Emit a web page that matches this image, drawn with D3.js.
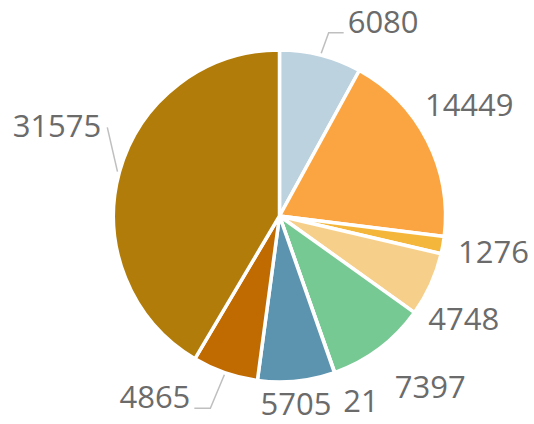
<!DOCTYPE html>
<html lang="en">
  <head>
    <meta charset="UTF-8" />
    <script src="https://d3js.org/d3.v7.min.js"></script>
    <title>Pie chart</title>
    <style>
      body { margin: 0; background: #fff; }
    </style>
  </head>
  <body>
    <div id="chart-container"></div>
    <script>
      // slice values, clockwise from 12 o'clock
      const values = [6080, 14449, 1276, 4748, 7397, 21, 5705, 4865, 31575];
      const colors = ["#bcd2df", "#fba542", "#f5b73b", "#f6d08b", "#77c994", "#8fb7a0", "#5c94b0", "#c06a02", "#b17c0a"];

      // hand-placed label positions (angle in degrees, distance from centre)
      const labelAngle = [28.1, 59.6, 99.5, 119.2, 138.6, 156.2, 175, 214.5, 292];
      const labelRadius = [220, 220, 217, 211, 228, 202, 189, 220, 240];
      // leader lines: slice index, horizontal elbow length
      const leaders = [
        { i: 0, elbow: 15 },
        { i: 7, elbow: 16 },
        { i: 8, elbow: 0 },
      ];

      const width = 534, height = 424;
      const cx = 279.5, cy = 216, r = 166;

      const svg = d3
        .select("#chart-container")
        .append("svg")
        .attr("width", width)
        .attr("height", height);

      const g = svg.append("g").attr("transform", "translate(" + cx + "," + cy + ")");

      const pie = d3.pie().sort(null).value((d) => d);
      const arcs = pie(values);
      const arc = d3.arc().innerRadius(0).outerRadius(r);
      const rim = d3.arc().innerRadius(r + 2).outerRadius(r + 2);

      g.selectAll("path.slice")
        .data(arcs)
        .join("path")
        .attr("class", "slice")
        .attr("d", arc)
        .attr("fill", (d, i) => colors[i])
        .attr("stroke", "#fff")
        .attr("stroke-width", 3.5)
        .attr("stroke-linejoin", "round");

      const rad = (a) => (a * Math.PI) / 180;

      const labels = g
        .selectAll("text.label")
        .data(arcs)
        .join("text")
        .attr("class", "label")
        .attr("x", (d, i) => labelRadius[i] * Math.sin(rad(labelAngle[i])))
        .attr("y", (d, i) => -labelRadius[i] * Math.cos(rad(labelAngle[i])))
        .attr("dy", "0.36em")
        .attr("text-anchor", "middle")
        .style("font-family", '"Open Sans", sans-serif')
        .style("font-size", "31px")
        .style("fill", "#6b6b6b")
        .text((d) => d.data);

      // leader lines from the slice edge to the label box
      const nodes = labels.nodes();
      leaders.forEach((l) => {
        const d = arcs[l.i];
        const p0 = rim.centroid(d);
        const bb = nodes[l.i].getBBox();
        const right = p0[0] < bb.x;
        let pts;
        if (l.elbow > 0) {
          const y = bb.y + bb.height * 0.78;
          const xe = right ? bb.x - 4 : bb.x + bb.width + 4;
          const xm = right ? xe - l.elbow : xe + l.elbow;
          pts = [p0, [xm, y], [xe, y]];
        } else {
          const xe = right ? bb.x - 6 : bb.x + bb.width + 6;
          pts = [p0, [xe, bb.y + bb.height * 0.55]];
        }
        g.append("path")
          .attr("d", d3.line()(pts))
          .attr("fill", "none")
          .attr("stroke", "#bfbfbf")
          .attr("stroke-width", 1.5);
      });
    </script>
  </body>
</html>
